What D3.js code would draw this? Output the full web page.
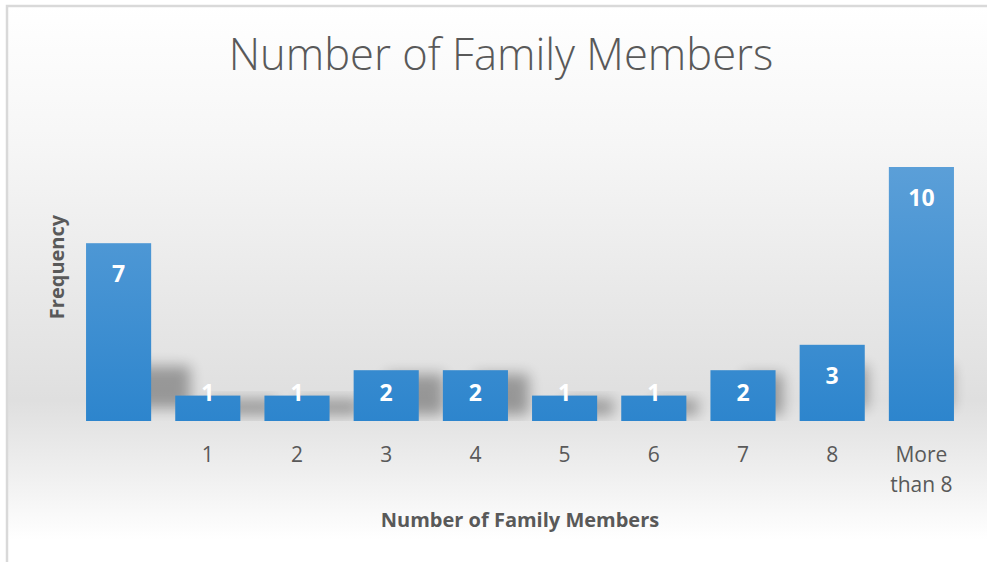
<!DOCTYPE html>
<html>
<head>
<meta charset="utf-8">
<script src="https://cdn.jsdelivr.net/npm/d3@7"></script>
<style>
  body { margin: 0; background: #fff; }
  svg { display: block; font-family: "Open Sans", sans-serif; }
</style>
</head>
<body>
<div id="wrapper"></div>
<script>
const categories = ["", "1", "2", "3", "4", "5", "6", "7", "8", "More than 8"];
const frequencies = [7, 1, 1, 2, 2, 1, 1, 2, 3, 10];
const yDomain = [0, 10];

const dataset = categories.map((c, i) => ({ key: i, label: c, value: frequencies[i] }));

const dimensions = {
  width: 987,
  height: 562,
  plot: { left: 74, right: 966, top: 167, bottom: 421 },
};

const svg = d3
  .select("#wrapper")
  .append("svg")
  .attr("width", dimensions.width)
  .attr("height", dimensions.height);

const defs = svg.append("defs");

const bg = defs
  .append("linearGradient")
  .attr("id", "bg")
  .attr("x1", 0).attr("y1", 0).attr("x2", 0).attr("y2", 1);
bg.append("stop").attr("offset", "0%").attr("stop-color", "#ffffff");
bg.append("stop").attr("offset", "25%").attr("stop-color", "#f6f6f6");
bg.append("stop").attr("offset", "71%").attr("stop-color", "#dfdfdf");
bg.append("stop").attr("offset", "84%").attr("stop-color", "#efefef");
bg.append("stop").attr("offset", "96%").attr("stop-color", "#ffffff");

const barFill = defs
  .append("linearGradient")
  .attr("id", "barFill")
  .attr("gradientUnits", "userSpaceOnUse")
  .attr("x1", 0).attr("y1", dimensions.plot.top)
  .attr("x2", 0).attr("y2", dimensions.plot.bottom);
barFill.append("stop").attr("offset", "0%").attr("stop-color", "#5b9fd8");
barFill.append("stop").attr("offset", "100%").attr("stop-color", "#2d85cd");

defs
  .append("filter")
  .attr("id", "blur")
  .attr("x", "-50%").attr("y", "-50%").attr("width", "200%").attr("height", "200%")
  .append("feGaussianBlur")
  .attr("stdDeviation", 7);

defs
  .append("clipPath")
  .attr("id", "plotClip")
  .append("rect")
  .attr("x", dimensions.plot.left)
  .attr("y", 0)
  .attr("width", dimensions.plot.right - dimensions.plot.left)
  .attr("height", dimensions.plot.bottom);

// chart area background + frame
svg
  .append("rect")
  .attr("x", 7)
  .attr("y", 5)
  .attr("width", dimensions.width - 7)
  .attr("height", dimensions.height - 5)
  .attr("fill", "url(#bg)");

svg
  .append("path")
  .attr("d", `M7,${dimensions.height} V6 H${dimensions.width}`)
  .attr("fill", "none")
  .attr("stroke", "#d9d9d9")
  .attr("stroke-width", 2.5);

const xScale = d3
  .scaleBand()
  .domain(dataset.map((d) => d.key))
  .range([dimensions.plot.left, dimensions.plot.right])
  .paddingInner(0.27)
  .paddingOuter(0.135);

const yScale = d3
  .scaleLinear()
  .domain(yDomain)
  .range([dimensions.plot.bottom, dimensions.plot.top]);

const bounds = svg.append("g");

// soft shadows to the right of each bar foot
bounds
  .append("g")
  .attr("clip-path", "url(#plotClip)")
  .selectAll(".shadow")
  .data(dataset)
  .join("rect")
  .attr("class", "shadow")
  .attr("x", (d) => xScale(d.key) + xScale.bandwidth() * 0.5)
  .attr("y", (d) => Math.max(yScale(d.value) + 4, yScale(0) - 55))
  .attr("width", (d) => xScale.bandwidth() * (1.1 - d.key * 0.07))
  .attr("height", (d) => Math.min(yScale(0) - yScale(d.value) - 10, 42))
  .attr("fill", "#000")
  .attr("opacity", 0.32)
  .attr("filter", "url(#blur)");

bounds
  .selectAll(".bar")
  .data(dataset)
  .join("rect")
  .attr("class", "bar")
  .attr("x", (d) => xScale(d.key))
  .attr("y", (d) => yScale(d.value))
  .attr("width", xScale.bandwidth())
  .attr("height", (d) => yScale(0) - yScale(d.value))
  .attr("fill", "url(#barFill)");

bounds
  .selectAll(".value")
  .data(dataset)
  .join("text")
  .attr("class", "value")
  .attr("x", (d) => xScale(d.key) + xScale.bandwidth() / 2)
  .attr("y", (d) => Math.min(yScale(d.value) + 31, yScale(0) - 28))
  .attr("dy", "0.35em")
  .attr("text-anchor", "middle")
  .attr("fill", "#ffffff")
  .style("font-size", "23px")
  .style("font-weight", "bold")
  .text((d) => d.value);

// category axis
const xAxisGenerator = d3
  .axisBottom(xScale)
  .tickSize(0)
  .tickPadding(0)
  .tickFormat((k) => categories[k]);

const xAxis = bounds
  .append("g")
  .attr("transform", `translate(0, ${dimensions.plot.bottom})`)
  .call(xAxisGenerator);
xAxis.select(".domain").remove();
xAxis
  .selectAll("text")
  .attr("y", 41)
  .attr("dy", 0)
  .attr("fill", "#595959")
  .style("font-family", "'Open Sans', sans-serif")
  .style("font-size", "21px")
  .each(function (k) {
    const label = categories[k];
    if (label.length > 4) {
      const words = label.split(" ");
      const lines = [words[0], words.slice(1).join(" ")];
      const t = d3.select(this).text(null);
      lines.forEach((line, i) => {
        t.append("tspan")
          .attr("x", 0)
          .attr("dy", i === 0 ? 0 : 30)
          .text(line);
      });
    }
  });

// titles
svg
  .append("text")
  .attr("x", 501)
  .attr("y", 70)
  .attr("text-anchor", "middle")
  .attr("fill", "#595959")
  .style("font-size", "43.5px")
  .style("font-weight", 300)
  .text("Number of Family Members");

svg
  .append("text")
  .attr("x", (dimensions.plot.left + dimensions.plot.right) / 2)
  .attr("y", 527)
  .attr("text-anchor", "middle")
  .attr("fill", "#595959")
  .style("font-size", "20px")
  .style("font-weight", "bold")
  .text("Number of Family Members");

svg
  .append("text")
  .attr("transform", "translate(64, 267) rotate(-90)")
  .attr("text-anchor", "middle")
  .attr("fill", "#595959")
  .style("font-size", "20px")
  .style("font-weight", "bold")
  .text("Frequency");
</script>
</body>
</html>
